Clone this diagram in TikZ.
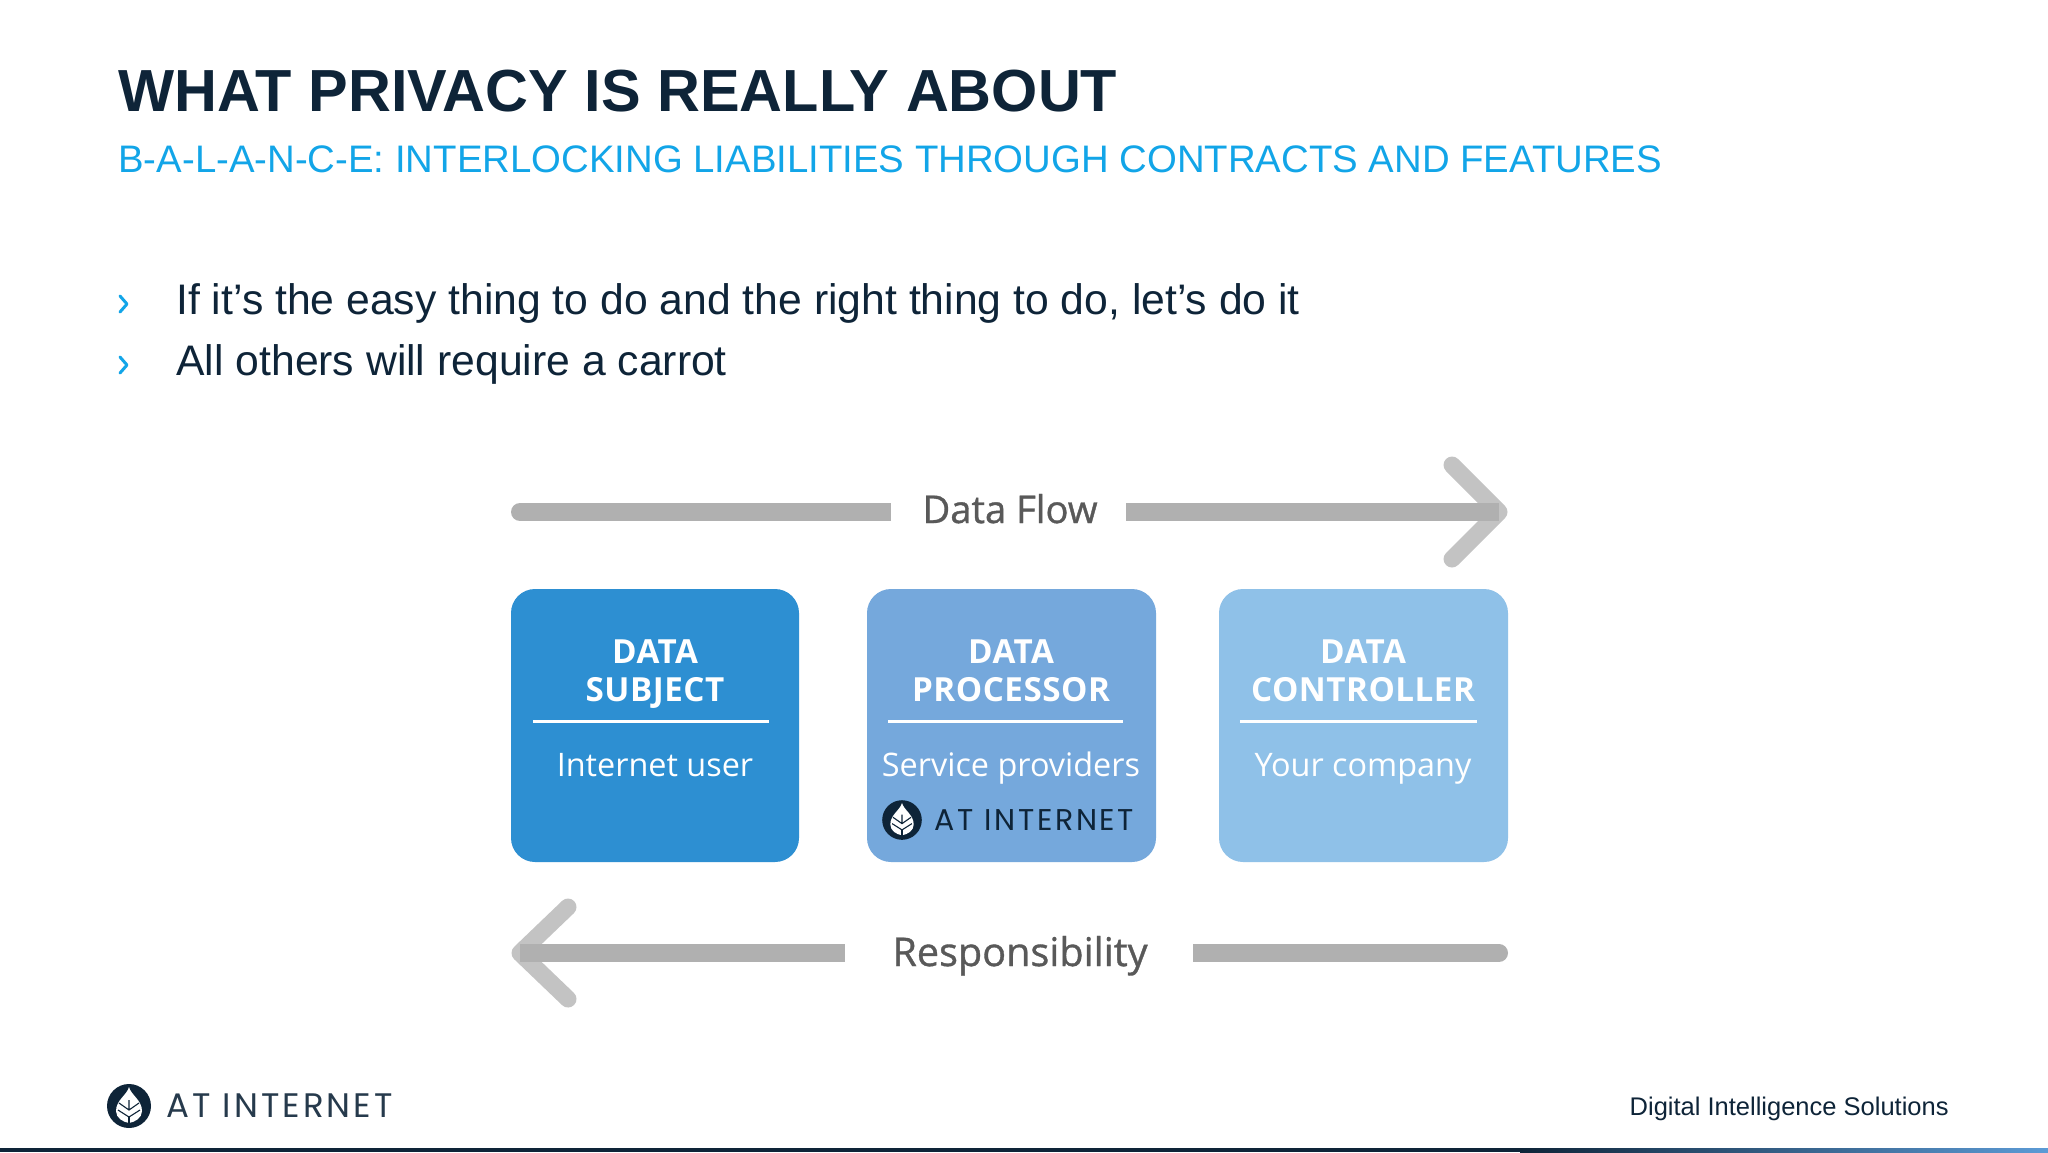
\documentclass[tikz,border=0pt]{standalone}
\usepackage{fontspec}
\setmainfont{Liberation Sans}
\newfontfamily\boxfont{Open Sans}
\newfontfamily\headfont[LetterSpace=1.5]{Open Sans}
\newfontfamily\midfont[FakeBold=0.9]{Open Sans}
\newfontfamily\logofont[LetterSpace=9]{Poppins}
\definecolor{navy}{HTML}{0E2438}
\definecolor{sky}{HTML}{12A5E8}
\definecolor{boxa}{HTML}{2D8FD2}
\definecolor{boxb}{HTML}{75A8DC}
\definecolor{boxc}{HTML}{8FC1E8}
\definecolor{barc}{HTML}{B0B0B0}
\definecolor{labelc}{HTML}{595959}
\definecolor{barend}{HTML}{5C9BD6}
\newcommand{\leaflogo}[3]{%
  \begin{scope}[shift={(#1,#2)},scale=#3]
    \fill[navy] (0,0) circle (22);
    \fill[white] (0,-19) .. controls (2,-11) and (13,-6) .. (13,5) .. controls (13,12) and (6,16) .. (0,17) .. controls (-6,16) and (-13,12) .. (-13,5) .. controls (-13,-6) and (-2,-11) .. (0,-19) -- cycle;
    \draw[navy,line width=0.55pt] (-10,-3) -- (0,4) -- (10,-3) (-11,4) -- (0,11) -- (11,4) (0,-6) -- (0,4);
    \fill[navy] (-1,11) rectangle (1,22);
  \end{scope}}
\tikzset{
  x=0.5pt,y=-0.5pt,
  title/.style={anchor=base west,inner sep=0,font=\bfseries\fontsize{29.7}{31}\selectfont,text=navy},
  subtitle/.style={anchor=base west,inner sep=0,font=\fontsize{19.17}{24}\selectfont,text=sky},
  bullettext/.style={anchor=base west,inner sep=0,font=\fontsize{21.35}{26}\selectfont,text=navy},
  bulletmark/.style={draw=sky,line width=1.5pt,line cap=round,line join=round},
  card/.style={rounded corners=12pt,inner sep=0},
  cardhead/.style={anchor=base,inner sep=0,text=white,font=\headfont\bfseries\fontsize{16.6}{19}\selectfont},
  cardbody/.style={anchor=base,inner sep=0,text=white,font=\boxfont\fontsize{16.2}{19}\selectfont},
  rule/.style={draw=white,line width=1.5pt},
  flowlabel/.style={anchor=base,inner sep=0,text=labelc,font=\midfont\fontsize{19.1}{22}\selectfont},
  shaft/.style={draw=barc,line width=9pt,line cap=butt},
  chevron/.style={draw=barc,draw opacity=.75,line width=8.5pt,line cap=round,line join=round},
}
\begin{document}
\begin{tikzpicture}
\useasboundingbox (0,0) rectangle (2048,1152);
\fill[white] (0,0) rectangle (2048,1152);
\node[title] (ttl) at (118,111) {WHAT PRIVACY IS REALLY ABOUT};
\node[subtitle] (sub) at (118,172) {B-A-L-A-N-C-E: INTERLOCKING LIABILITIES THROUGH CONTRACTS AND FEATURES};
\draw[bulletmark] (120,296) -- (127,304) -- (120,312);
\draw[bulletmark] (120,357) -- (127,365) -- (120,373);
\node[bullettext] (b1) at (176,314) {If it’s the easy thing to do and the right thing to do, let’s do it};
\node[bullettext] (b2) at (176,375) {All others will require a carrot};

\path[fill=boxa,card] (511,589) rectangle (799,862);
\path[fill=boxb,card] (867,589) rectangle (1156,862);
\path[fill=boxc,card] (1219,589) rectangle (1508,862);

\node[cardhead] (h1a) at (655,663) {DATA};
\node[cardhead] (h1b) at (655,701) {SUBJECT};
\node[cardhead] (h2a) at (1011,663) {DATA};
\node[cardhead] (h2b) at (1011,701) {PROCESSOR};
\node[cardhead] (h3a) at (1363,663) {DATA};
\node[cardhead] (h3b) at (1363,701) {CONTROLLER};
\draw[rule] (533,721) -- (769,721);
\draw[rule] (888,721) -- (1123,721);
\draw[rule] (1240,721) -- (1477,721);
\node[cardbody] (t1) at (655,776) {Internet user};
\node[cardbody] (t2) at (1011,776) {Service providers};
\node[cardbody] (t3) at (1363,776) {Your company};
\leaflogo{902}{820}{0.9}
\node[anchor=base west,inner sep=0,text=navy,font=\logofont\fontsize{15}{16}\selectfont] (l1) at (934,830) {AT INTERNET};

\coordinate (a1) at (520,512); \coordinate (a2) at (891,512);
\coordinate (a3) at (1126,512); \coordinate (a4) at (1499,512);
\draw[shaft,line cap=round] (a1) -- (527,512);
\draw[shaft] (527,512) -- (a2);
\draw[shaft] (a3) -- (a4);
\coordinate (c1) at (1452,465); \coordinate (c2) at (1452,559);
\draw[chevron] (c1) -- (a4) -- (c2);
\node[flowlabel] (df) at (1010,523) {Data Flow};

\coordinate (d1) at (520,953); \coordinate (d2) at (845,953);
\coordinate (d3) at (1193,953); \coordinate (d4) at (1499,953);
\draw[shaft] (d1) -- (d2);
\draw[shaft] (d3) -- (1492,953);
\draw[shaft,line cap=round] (1492,953) -- (d4);
\coordinate (e1) at (568,907); \coordinate (e2) at (568,999);
\draw[chevron] (e1) -- (d1) -- (e2);
\node[flowlabel,font=\midfont\fontsize{19.8}{22}\selectfont] (rs) at (1020,966) {Responsibility};

\leaflogo{129}{1106}{1}
\node[anchor=base west,inner sep=0,text=navy!90,font=\logofont\fontsize{17}{20}\selectfont] (l2) at (166,1117) {AT INTERNET};
\node[anchor=base east,inner sep=0,text=navy,font=\fontsize{12.75}{16}\selectfont] (dis) at (1949,1115) {Digital Intelligence Solutions};

\fill[navy] (0,1148) rectangle (1520,1152);
\shade[left color=navy,right color=barend] (1520,1148) rectangle (2048,1152);
\end{tikzpicture}
\end{document}
